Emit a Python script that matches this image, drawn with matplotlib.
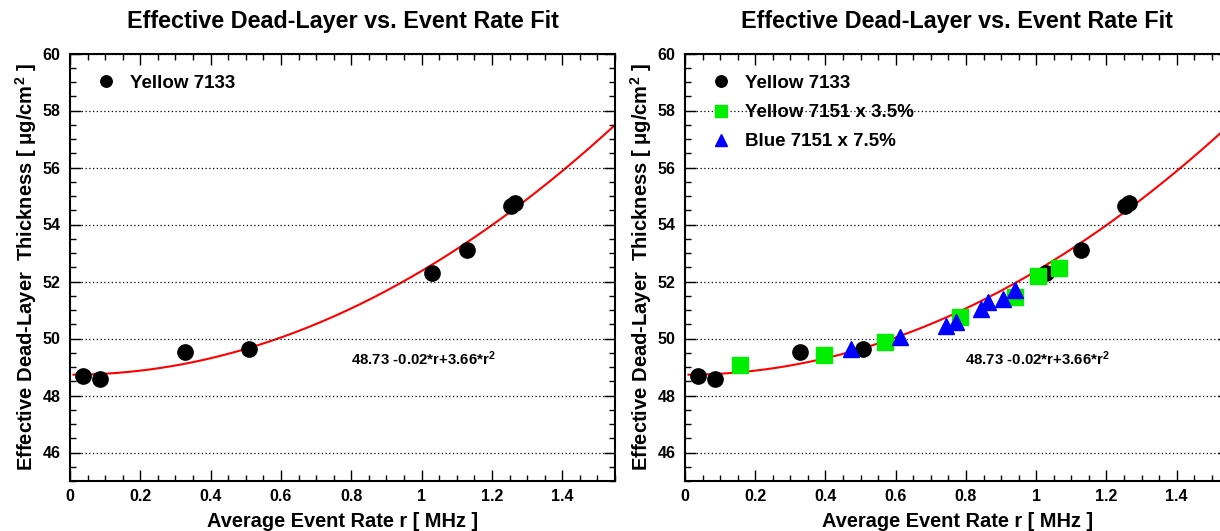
import numpy as np
import matplotlib
matplotlib.use("Agg")
import matplotlib.pyplot as plt
from matplotlib.ticker import MultipleLocator

# ROOT-like look: bold Helvetica-style text, ticks inside on all sides
plt.rcParams["font.family"] = ["Liberation Sans", "DejaVu Sans"]
plt.rcParams["font.weight"] = "bold"
plt.rcParams["mathtext.fontset"] = "custom"
plt.rcParams["mathtext.rm"] = "Liberation Sans:bold"
plt.rcParams["mathtext.it"] = "Liberation Sans:bold"
plt.rcParams["mathtext.bf"] = "Liberation Sans:bold"

# ------------------------------------------------------------
# Data
# ------------------------------------------------------------
yellow7133_rate = [0.037, 0.086, 0.328, 0.508, 1.029, 1.128, 1.254, 1.265]
yellow7133_thick = [48.67, 48.58, 49.51, 49.62, 52.30, 53.11, 54.64, 54.74]

yellow7151_rate = [0.157, 0.395, 0.569, 0.783, 0.940, 1.006, 1.066]
yellow7151_thick = [49.06, 49.43, 49.88, 50.74, 51.45, 52.19, 52.46]

blue7151_rate = [0.474, 0.612, 0.742, 0.773, 0.843, 0.863, 0.905, 0.940]
blue7151_thick = [49.63, 50.05, 50.43, 50.58, 51.02, 51.28, 51.37, 51.70]

# fit parameters p0 + p1*r + p2*r^2
fit_p = [48.73, -0.02, 3.66]
fit_label = "48.73 -0.02*r+3.66*r$^2$"

title = "Effective Dead-Layer vs. Event Rate Fit"
xlabel = "Average Event Rate r [ MHz ]"
ylabel = "Effective Dead-Layer  Thickness [ \u03bcg/cm$^2$ ]"

r_fit = np.linspace(0.01, 1.55, 300)
t_fit = fit_p[0] + fit_p[1] * r_fit + fit_p[2] * r_fit ** 2

fig = plt.figure(figsize=(12.2, 5.31), dpi=100)
W, H = 1220.0, 531.0
ax_l = fig.add_axes([70 / W, 1 - 481 / H, 545 / W, 427.5 / H])
ax_r = fig.add_axes([685 / W, 1 - 481 / H, 544.4 / W, 427.5 / H])


def style_axes(ax):
    ax.set_xlim(0, 1.55)
    ax.set_ylim(45, 60)
    ax.xaxis.set_major_locator(MultipleLocator(0.2))
    ax.xaxis.set_minor_locator(MultipleLocator(0.05))
    ax.yaxis.set_major_locator(MultipleLocator(2))
    ax.yaxis.set_minor_locator(MultipleLocator(0.5))
    ax.tick_params(which="both", direction="in", top=True, right=True,
                   labelsize=11.5, width=1)
    ax.tick_params(which="major", length=8)
    ax.tick_params(which="minor", length=4)
    ax.tick_params(axis="x", pad=6)
    ax.tick_params(axis="y", pad=7)
    ax.xaxis.set_major_formatter(plt.FuncFormatter(lambda v, p: "%g" % round(v, 2)))
    for s in ax.spines.values():
        s.set_linewidth(1.5)
    ax.grid(axis="y", which="major", color="black", linestyle=(0, (1, 2)),
            linewidth=0.9)
    ax.set_axisbelow(False)
    ax.text(0.5, 1.075, title, transform=ax.transAxes, ha="center",
            va="center", fontsize=16.8, fontweight="bold")
    ax.text(0.5, -0.095, xlabel, transform=ax.transAxes, ha="center",
            va="center", fontsize=14.4, fontweight="bold")
    ax.text(-0.08, 0.5, ylabel, transform=ax.transAxes, ha="center",
            va="center", rotation=90, fontsize=14.5, fontweight="bold")
    ax.plot(r_fit, t_fit, color="red", linewidth=1.5, zorder=2)
    ax.text(0.515, 0.285, fit_label, transform=ax.transAxes, ha="left",
            va="center", fontsize=10.8, fontweight="bold")


style_axes(ax_l)
style_axes(ax_r)

# Left panel: only Yellow 7133
ax_l.plot(yellow7133_rate, yellow7133_thick, "o", color="black",
          markersize=11, label="Yellow 7133", zorder=3)
ax_l.legend(loc="upper left", bbox_to_anchor=(0.0, 0.99), frameon=False,
            prop={"size": 13.5, "weight": "bold"}, markerscale=0.75,
            handletextpad=0.3, borderaxespad=0.5)

# Right panel: all three samples
ax_r.plot(yellow7133_rate, yellow7133_thick, "o", color="black",
          markersize=11, label="Yellow 7133", zorder=3)
ax_r.plot(yellow7151_rate, yellow7151_thick, "s", color="#00ee00",
          markersize=11, label="Yellow 7151 x 3.5%", zorder=4)
ax_r.plot(blue7151_rate, blue7151_thick, "^", color="blue",
          markersize=11, label="Blue 7151 x 7.5%", zorder=5)
ax_r.legend(loc="upper left", bbox_to_anchor=(0.0, 0.99), frameon=False,
            prop={"size": 13.5, "weight": "bold"}, markerscale=0.75,
            handletextpad=0.3, borderaxespad=0.5, labelspacing=0.65)

fig.savefig("out.png", dpi=100)
